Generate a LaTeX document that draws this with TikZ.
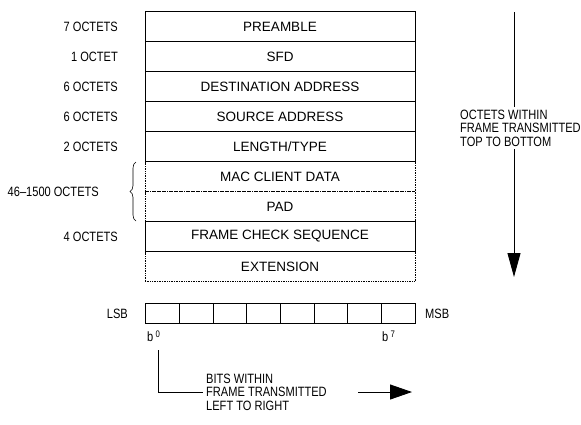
\documentclass[tikz,border=0pt]{standalone}
\usepackage{fontspec}
\setmainfont{Liberation Sans}
\newfontfamily\narrowfont[FakeStretch=0.82,Ligatures=TeX]{Liberation Sans}
\usetikzlibrary{decorations.pathreplacing,arrows.meta}
\begin{document}
\begin{tikzpicture}[x=1pt,y=-1pt,font=\fontsize{13.5}{13.5}\selectfont,
  lbl/.style={inner sep=0pt,anchor=east,font=\narrowfont\fontsize{13.5}{13.5}\selectfont},
  row/.style={minimum width=270pt,minimum height=30pt,inner sep=0pt,outer sep=0pt,font=\fontsize{13.5}{13.5}\selectfont},
  sol/.style={row,draw,line width=0.9pt},
  dot/.style={row,draw,line width=0.7pt,dash pattern=on 0.8pt off 0.9pt},
  cell/.style={draw,line width=0.9pt,minimum width=33.66pt,minimum height=19.5pt,inner sep=0pt,outer sep=0pt},
  note/.style={inner sep=0pt,align=left,anchor=west,font=\narrowfont\fontsize{13.5}{13.5}\selectfont}]
\useasboundingbox (0,0) rectangle (581,424);
% dotted rows first
\node[dot] (mac) at (280,176.5) {MAC CLIENT DATA};
\node[dot] (pad) at (280,206.5) {PAD};
\node[dot] (ext) at (280,266.5) {EXTENSION};
% solid rows
\node[sol] (pre) at (280,26.5) {PREAMBLE};
\node[sol] (sfd) at (280,56.5) {SFD};
\node[sol] (dst) at (280,86.5) {DESTINATION ADDRESS};
\node[sol] (src) at (280,116.5) {SOURCE ADDRESS};
\node[sol] (len) at (280,146.5) {LENGTH/TYPE};
\node[sol] (fcs) at (280,236.5) {FRAME CHECK SEQUENCE};
% left labels
\node[lbl] (l1) at (118,26.5) {7 OCTETS};
\node[lbl] (l2) at (118,56.5) {1 OCTET};
\node[lbl] (l3) at (118,86.5) {6 OCTETS};
\node[lbl] (l4) at (118,116.5) {6 OCTETS};
\node[lbl] (l5) at (118,146.5) {2 OCTETS};
\node[lbl] (l6) at (99,191.5) {46\textendash 1500 OCTETS};
\node[lbl] (l7) at (118,236.5) {4 OCTETS};
\coordinate (bra) at (136,221);
\coordinate (brb) at (136,162);
\draw[line width=0.6pt,decorate,decoration={brace,amplitude=6pt}] (bra) -- (brb);
% right arrow
\node[note] (dir) at (460,128) {OCTETS WITHIN\\FRAME TRANSMITTED\\TOP TO BOTTOM};
\coordinate (ta) at (514,12);
\coordinate (tb) at (514,277);
\draw[line width=0.9pt] (ta) -- ([yshift=3pt]ta |- dir.north);
\draw[line width=0.9pt,-{Triangle[length=24pt,width=13pt]}] ([yshift=-3pt]ta |- dir.south) -- (tb);
% bits
\foreach \i in {0,...,7}{
  \node[cell] (c\i) at ({145.7+33.66*(\i+0.5)},313.5) {};
}
\node[lbl] (lsb) at (128,313.5) {LSB};
\node[lbl,anchor=west] (msb) at (425,313.5) {MSB};
\node[lbl,anchor=west] (b0) at (147,336) {b\,\raisebox{4pt}{\fontsize{9.5}{9.5}\selectfont 0}};
\node[lbl,anchor=west] (b7) at (382,336) {b\,\raisebox{4pt}{\fontsize{9.5}{9.5}\selectfont 7}};
\node[note] (bits) at (206,392) {BITS WITHIN\\FRAME TRANSMITTED\\LEFT TO RIGHT};
\coordinate (v) at (158,350);
\draw[line width=0.9pt] (v) |- ([xshift=-3pt]bits.west);
\coordinate (ra) at (358,392);
\coordinate (rb) at (412,392);
\draw[line width=0.9pt,-{Triangle[length=22pt,width=15pt]}] (ra) -- (rb);
\end{tikzpicture}
\end{document}
